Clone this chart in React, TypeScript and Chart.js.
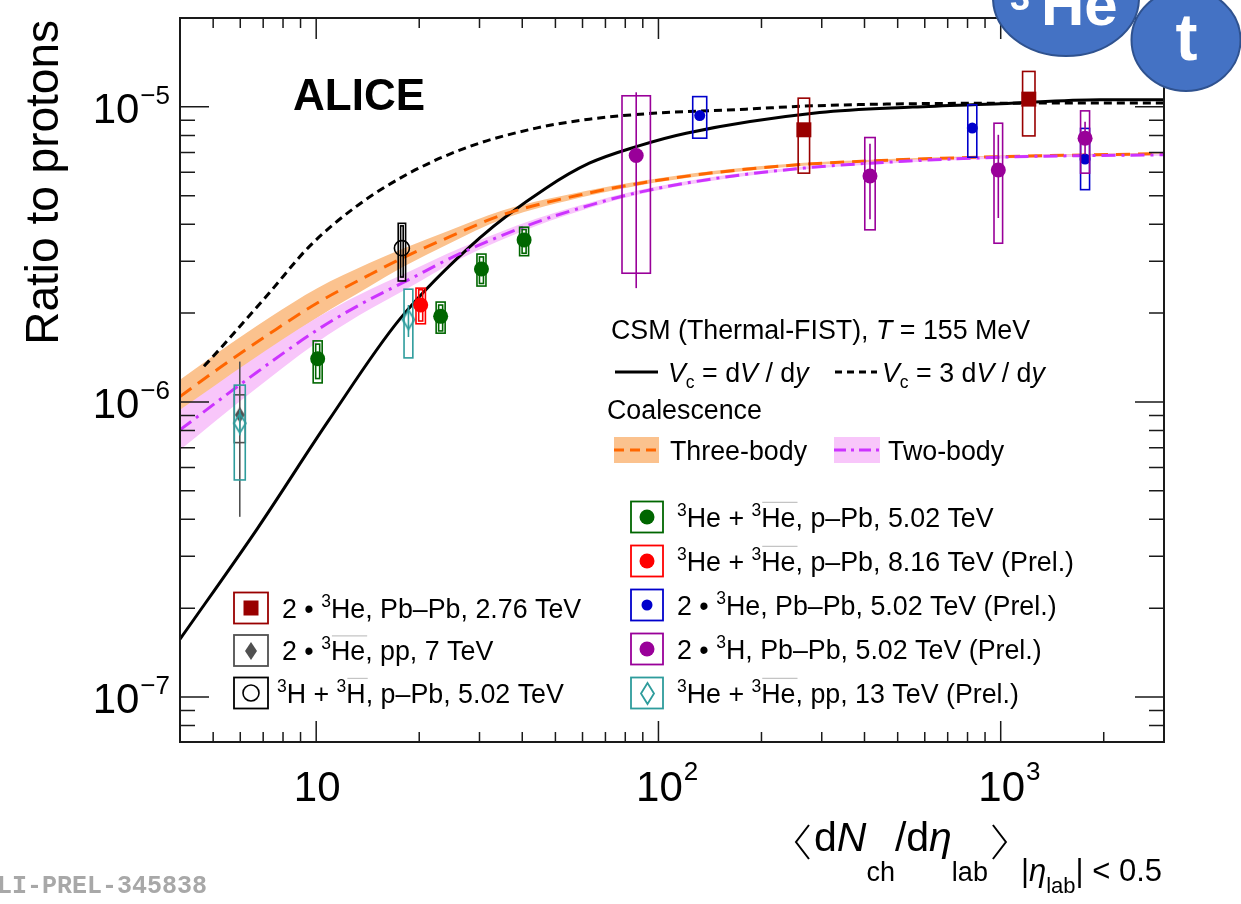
import React, { useEffect, useRef } from 'react';
import { Chart, registerables } from 'chart.js';

Chart.register(...registerables);

const SANS = '"Liberation Sans", Arimo, Helvetica, Arial, sans-serif';
const MONO = '"Liberation Mono", "DejaVu Sans Mono", monospace';

// Axis ranges
const X_MIN = 4;
const X_MAX = 3000;
const Y_MIN = 7.04e-8;
const Y_MAX = 2.0e-5;

// Major ticks and their labels (mantissa, exponent)
const xMajor = [10, 100, 1000];
const xMajorLabels = [['10', ''], ['10', '2'], ['10', '3']];
const yMajor = [1e-7, 1e-6, 1e-5];
const yMajorLabels = [['10', '\u22127'], ['10', '\u22126'], ['10', '\u22125']];

// CSM (Thermal-FIST), T = 155 MeV, Vc = dV/dy
const csm1X = [4, 6.74, 10.9, 17.5, 30.0, 46.9, 62.8, 86.1, 120.5, 295.8, 553, 1000, 1948, 3000];
const csm1Y = [1.57e-7, 3.73e-7, 8.69e-7, 1.9e-6, 3.59e-6, 5.3e-6, 6.44e-6, 7.33e-6, 8.14e-6, 9.56e-6, 9.98e-6, 1.024e-5, 1.057e-5, 1.057e-5];

// CSM (Thermal-FIST), Vc = 3 dV/dy
const csm3X = [4.7, 5.2, 7.29, 9.54, 13.07, 18.7, 28.0, 43.9, 62.8, 92, 180, 282, 1000, 3000];
const csm3Y = [1.32e-6, 1.5e-6, 2.34e-6, 3.36e-6, 4.59e-6, 5.96e-6, 7.33e-6, 8.47e-6, 9.08e-6, 9.47e-6, 9.82e-6, 1.008e-5, 1.029e-5, 1.03e-5];

// Coalescence, three-body: central value and band
const coal3X = [4, 5.2, 7.29, 10.07, 14.3, 17.9, 24.5, 35, 62.8, 86.1, 144, 266, 415, 1000, 3000];
const coal3Y = [1.043e-6, 1.3e-6, 1.7e-6, 2.165e-6, 2.695e-6, 3.077e-6, 3.624e-6, 4.304e-6, 5.11e-6, 5.48e-6, 5.975e-6, 6.385e-6, 6.56e-6, 6.78e-6, 6.94e-6];
const coal3Hi = [1.189e-6, 1.479e-6, 1.93e-6, 2.429e-6, 2.954e-6, 3.305e-6, 3.812e-6, 4.455e-6, 5.217e-6, 5.568e-6, 6.059e-6, 6.459e-6, 6.621e-6, 6.843e-6, 6.989e-6];
const coal3Lo = [0.915e-6, 1.142e-6, 1.498e-6, 1.93e-6, 2.459e-6, 2.865e-6, 3.445e-6, 4.158e-6, 5.005e-6, 5.394e-6, 5.893e-6, 6.312e-6, 6.5e-6, 6.718e-6, 6.892e-6];

// Coalescence, two-body: central value and band
const coal2X = [4, 6.37, 10.07, 13.36, 18.58, 26.2, 43.9, 62.8, 86.1, 144, 266, 415, 1000, 3000];
const coal2Y = [8.04e-7, 1.206e-6, 1.754e-6, 2.13e-6, 2.59e-6, 3.175e-6, 4.06e-6, 4.636e-6, 5.11e-6, 5.7e-6, 6.2e-6, 6.44e-6, 6.75e-6, 6.88e-6];
const coal2Hi = [9.4e-7, 1.369e-6, 1.932e-6, 2.309e-6, 2.756e-6, 3.308e-6, 4.174e-6, 4.733e-6, 5.192e-6, 5.78e-6, 6.272e-6, 6.5e-6, 6.813e-6, 6.928e-6];
const coal2Lo = [6.87e-7, 1.063e-6, 1.592e-6, 1.965e-6, 2.434e-6, 3.047e-6, 3.949e-6, 4.541e-6, 5.03e-6, 5.621e-6, 6.129e-6, 6.381e-6, 6.688e-6, 6.832e-6];

// Measurements: [dNch/deta, ratio, statLo, statHi, sysLo, sysHi]
const hePPb502 = [
  [10.1, 1.40e-6, 1.20e-6, 1.57e-6, 1.16e-6, 1.61e-6],
  [23.1, 1.95e-6, 1.74e-6, 2.13e-6, 1.71e-6, 2.18e-6],
  [30.4, 2.82e-6, 2.52e-6, 3.10e-6, 2.47e-6, 3.17e-6],
  [40.5, 3.54e-6, 3.19e-6, 3.84e-6, 3.13e-6, 3.91e-6],
];
const hePPb816 = [[20.2, 2.13e-6, 1.88e-6, 2.40e-6, 1.84e-6, 2.43e-6]];
const hePbPb502 = [
  [132, 9.34e-6, 9.0e-6, 9.7e-6, 7.83e-6, 1.083e-5],
  [826, 8.47e-6, 8.1e-6, 8.8e-6, 6.75e-6, 1.016e-5],
  [1764, 6.65e-6, 6.4e-6, 6.9e-6, 5.24e-6, 8.45e-6],
];
const tPbPb502 = [
  [86.1, 6.84e-6, 2.43e-6, 1.12e-5, 2.73e-6, 1.09e-5],
  [415, 5.83e-6, 4.16e-6, 7.5e-6, 3.83e-6, 7.87e-6],
  [984, 6.11e-6, 4.2e-6, 8.04e-6, 3.45e-6, 8.8e-6],
  [1764, 7.83e-6, 6.9e-6, 8.9e-6, 5.96e-6, 9.69e-6],
];
const hePP13 = [
  [5.98, 8.47e-7, 7.7e-7, 9.4e-7, 5.44e-7, 1.14e-6],
  [18.6, 1.90e-6, 1.66e-6, 2.13e-6, 1.41e-6, 2.41e-6],
];
const hePbPb276 = [
  [266, 8.36e-6, 8.0e-6, 8.7e-6, 5.96e-6, 1.07e-5],
  [1208, 1.062e-5, 1.02e-5, 1.10e-5, 7.97e-6, 1.318e-5],
];
const heBarPP7 = [[5.98, 9.04e-7, 4.08e-7, 1.37e-6, 7.28e-7, 1.057e-6]];
const tPPb502 = [[17.8, 3.32e-6, 2.65e-6, 3.95e-6, 2.57e-6, 4.03e-6]];

// Colours
const GREEN = '#006600';
const RED = '#ff0000';
const BLUE = '#0000cc';
const PURPLE = '#990099';
const DARKRED = '#990000';
const TEAL = '#2e9c9c';
const GRAY = '#505050';
const ORANGE = '#ff6600';
const ORANGE_BAND = '#fbc28e';
const VIOLET = '#cc33ff';
const PINK_BAND = '#f8c6fa';
const AXIS = '#1a1a1a';

const LEG = 26.8;
const SUP = 17.5;

function fnt(size: number, it = false, b = false, fam = SANS) {
  return `${it ? 'italic ' : ''}${b ? 'bold ' : ''}${size}px ${fam}`;
}

function makeDiamond(w: number, h: number, fill: string | null, stroke: string | null, lw: number) {
  const pad = Math.ceil(lw) + 1;
  const c = document.createElement('canvas');
  c.width = w + 2 * pad;
  c.height = h + 2 * pad;
  const g = c.getContext('2d')!;
  g.beginPath();
  g.moveTo(c.width / 2, pad);
  g.lineTo(c.width - pad, c.height / 2);
  g.lineTo(c.width / 2, c.height - pad);
  g.lineTo(pad, c.height / 2);
  g.closePath();
  if (fill) { g.fillStyle = fill; g.fill(); }
  if (stroke) { g.strokeStyle = stroke; g.lineWidth = lw; g.stroke(); }
  return c;
}

type Seg = { t?: string; size?: number; it?: boolean; b?: boolean; dy?: number; over?: boolean; br?: 'l' | 'r'; w?: number };

function segWidth(ctx: CanvasRenderingContext2D, s: Seg) {
  if (s.br) return s.w || 0;
  ctx.font = fnt(s.size || LEG, s.it, s.b);
  return ctx.measureText(s.t || '').width;
}

function segsWidth(ctx: CanvasRenderingContext2D, segs: Seg[]) {
  return segs.reduce((a, s) => a + segWidth(ctx, s), 0);
}

function drawSegs(ctx: CanvasRenderingContext2D, x: number, base: number, segs: Seg[], color = '#000') {
  let cx = x;
  ctx.fillStyle = color;
  ctx.textBaseline = 'alphabetic';
  ctx.textAlign = 'left';
  for (const s of segs) {
    const w = segWidth(ctx, s);
    if (s.br) {
      ctx.save();
      ctx.strokeStyle = color;
      ctx.lineWidth = 2;
      ctx.beginPath();
      if (s.br === 'l') {
        ctx.moveTo(cx + 14, base - 26);
        ctx.lineTo(cx + 1, base - 9);
        ctx.lineTo(cx + 14, base + 8);
      } else {
        ctx.moveTo(cx + 5, base - 26);
        ctx.lineTo(cx + 18, base - 9);
        ctx.lineTo(cx + 5, base + 8);
      }
      ctx.stroke();
      ctx.restore();
    } else {
      const size = s.size || LEG;
      ctx.font = fnt(size, s.it, s.b);
      ctx.fillText(s.t || '', cx, base + (s.dy || 0));
      if (s.over) {
        ctx.save();
        ctx.strokeStyle = '#c4c4c4';
        ctx.lineWidth = 1.2;
        const oy = base + (s.dy || 0) - 0.716 * size - 5;
        ctx.beginPath();
        ctx.moveTo(cx + 1, oy);
        ctx.lineTo(cx + w + 2, oy);
        ctx.stroke();
        ctx.restore();
      }
    }
    cx += w;
  }
  return cx;
}

const sup3: Seg = { t: '3', size: SUP, dy: -11 };

function pointsDataset(rows: number[][], style: any, order: number, marker: any) {
  return {
    type: 'line',
    showLine: false,
    data: rows.map((r) => ({ x: r[0], y: r[1] })),
    errs: rows,
    errStyle: style,
    order,
    fill: false,
    ...marker,
  };
}

function curveDataset(xs: number[], ys: number[], color: string, dash: number[], order: number) {
  return {
    type: 'line',
    data: xs.map((x, i) => ({ x, y: ys[i] })),
    borderColor: color,
    borderWidth: 3,
    borderDash: dash,
    pointRadius: 0,
    fill: false,
    cubicInterpolationMode: 'monotone',
    order,
  };
}

function bandDataset(xs: number[], ys: number[], color: string, fill: any, order: number) {
  return {
    type: 'line',
    data: xs.map((x, i) => ({ x, y: ys[i] })),
    borderColor: 'rgba(0,0,0,0)',
    borderWidth: 0,
    backgroundColor: color,
    pointRadius: 0,
    fill,
    cubicInterpolationMode: 'monotone',
    order,
  };
}

export default function App() {
  const ref = useRef<HTMLCanvasElement>(null);

  useEffect(() => {
    const canvas = ref.current;
    if (!canvas) return;

    const tealDiamond = makeDiamond(12, 19, null, TEAL, 1.8);
    const grayDiamond = makeDiamond(10, 16, GRAY, null, 0);
    const tealDiamondLeg = makeDiamond(13, 21, null, TEAL, 1.8);
    const grayDiamondLeg = makeDiamond(12, 18, GRAY, null, 0);

    const errorBoxes = {
      id: 'errorBoxes',
      beforeDatasetDraw(chart: any, args: any) {
        const ds = chart.data.datasets[args.index];
        if (!ds.errs) return;
        const { ctx, chartArea: a } = chart;
        const xs = chart.scales.x;
        const ys = chart.scales.y;
        const st = ds.errStyle;
        ctx.save();
        ctx.beginPath();
        ctx.rect(a.left, a.top, a.right - a.left, a.bottom - a.top);
        ctx.clip();
        ctx.strokeStyle = st.color;
        ctx.lineWidth = 1.6;
        ds.errs.forEach((r: number[], i: number) => {
          const px = xs.getPixelForValue(r[0]);
          const sTop = ys.getPixelForValue(r[3]);
          const sBot = ys.getPixelForValue(r[2]);
          const bTop = ys.getPixelForValue(r[5]);
          const bBot = ys.getPixelForValue(r[4]);
          if (st.stat === 'line') {
            ctx.beginPath();
            ctx.moveTo(px, sTop);
            ctx.lineTo(px, sBot);
            ctx.stroke();
          } else if (st.stat === 'box') {
            ctx.strokeRect(px - st.statHalf, sTop, 2 * st.statHalf, sBot - sTop);
          }
          const hw = st.boxHalf[i];
          ctx.strokeRect(px - hw, bTop, 2 * hw, bBot - bTop);
        });
        ctx.restore();
      },
    };

    const decorations = {
      id: 'decorations',
      afterDraw(chart: any) {
        const { ctx, chartArea: a } = chart;
        const xs = chart.scales.x;
        const ys = chart.scales.y;
        ctx.save();

        // frame
        ctx.strokeStyle = AXIS;
        ctx.lineWidth = 2;
        ctx.strokeRect(a.left, a.top, a.right - a.left, a.bottom - a.top);

        // ticks
        ctx.lineWidth = 1.5;
        const xMinor: number[] = [];
        const yMinor: number[] = [];
        for (let e = 0; e <= 3; e++) for (let m = 2; m <= 9; m++) {
          const v = m * Math.pow(10, e);
          if (v > X_MIN * 1.001 && v < X_MAX * 0.999) xMinor.push(v);
        }
        for (let e = -8; e <= -5; e++) for (let m = 2; m <= 9; m++) {
          const v = m * Math.pow(10, e);
          if (v > Y_MIN * 1.001 && v < Y_MAX * 0.999) yMinor.push(v);
        }
        const xTick = (v: number, len: number) => {
          const p = xs.getPixelForValue(v);
          ctx.beginPath();
          ctx.moveTo(p, a.bottom); ctx.lineTo(p, a.bottom - len);
          ctx.moveTo(p, a.top); ctx.lineTo(p, a.top + len);
          ctx.stroke();
        };
        const yTick = (v: number, len: number) => {
          const p = ys.getPixelForValue(v);
          ctx.beginPath();
          ctx.moveTo(a.left, p); ctx.lineTo(a.left + len, p);
          ctx.moveTo(a.right, p); ctx.lineTo(a.right - len, p);
          ctx.stroke();
        };
        xMinor.forEach((v) => xTick(v, 10));
        xMajor.forEach((v) => xTick(v, 21));
        yMinor.forEach((v) => yTick(v, 15));
        yMajor.forEach((v) => yTick(v, 29));

        // tick labels
        ctx.fillStyle = '#000';
        ctx.textBaseline = 'alphabetic';
        xMajor.forEach((v, i) => {
          const p = xs.getPixelForValue(v);
          const [m, e] = xMajorLabels[i];
          ctx.font = fnt(42);
          const w = ctx.measureText(m).width;
          const x0 = p - w / 2 + 1;
          ctx.fillText(m, x0, 801);
          if (e) {
            ctx.font = fnt(26);
            ctx.fillText(e, x0 + w + 1, 780);
          }
        });
        yMajor.forEach((v, i) => {
          const p = ys.getPixelForValue(v);
          const [m, e] = yMajorLabels[i];
          ctx.font = fnt(26);
          const we = ctx.measureText(e).width;
          ctx.font = fnt(42);
          const wm = ctx.measureText(m).width;
          const x0 = 170 - we - wm - 1;
          ctx.fillText(m, x0, p + 16);
          ctx.font = fnt(26);
          ctx.fillText(e, x0 + wm + 1, p - 3);
        });

        // y title
        ctx.save();
        ctx.translate(58, 0);
        ctx.rotate(-Math.PI / 2);
        ctx.font = fnt(46);
        ctx.textAlign = 'right';
        ctx.fillText('Ratio to protons', -20, 0);
        ctx.restore();

        // x title
        const M = 41, S1 = 27, S2 = 31, SS = 22;
        const xt: Seg[] = [
          { br: 'l', w: 19 },
          { t: 'd', size: M }, { t: 'N', size: M, it: true },
          { t: 'ch', size: S1, dy: 30 },
          { t: '/d', size: M }, { t: '\u03b7', size: M, it: true },
          { t: 'lab', size: S1, dy: 30 },
          { br: 'r', w: 33 },
          { t: '|', size: S2, dy: 30 }, { t: '\u03b7', size: S2, it: true, dy: 30 },
          { t: 'lab', size: SS, dy: 42 },
          { t: '| < 0.5', size: S2, dy: 30 },
        ];
        const xtw = segsWidth(ctx, xt);
        drawSegs(ctx, 1162 - xtw, 851, xt);

        // ALICE label
        ctx.font = fnt(44, false, true);
        ctx.fillStyle = '#000';
        ctx.fillText('ALICE', 293, 110);

        // model legend
        drawSegs(ctx, 611, 339, [
          { t: 'CSM (Thermal-FIST), ' }, { t: 'T', it: true }, { t: ' = 155 MeV' },
        ]);
        ctx.strokeStyle = '#000';
        ctx.lineWidth = 3;
        ctx.beginPath(); ctx.moveTo(615, 372); ctx.lineTo(658, 372); ctx.stroke();
        drawSegs(ctx, 668, 382, [
          { t: 'V', it: true }, { t: 'c', size: SUP, dy: 6 }, { t: ' = d' }, { t: 'V', it: true }, { t: ' / d' }, { t: 'y', it: true },
        ]);
        ctx.setLineDash([7, 5]);
        ctx.beginPath(); ctx.moveTo(835, 372); ctx.lineTo(877, 372); ctx.stroke();
        ctx.setLineDash([]);
        drawSegs(ctx, 882, 382, [
          { t: 'V', it: true }, { t: 'c', size: SUP, dy: 6 }, { t: ' = 3 d' }, { t: 'V', it: true }, { t: ' / d' }, { t: 'y', it: true },
        ]);
        drawSegs(ctx, 607, 419, [{ t: 'Coalescence' }]);
        ctx.fillStyle = ORANGE_BAND;
        ctx.fillRect(614, 437, 45, 26);
        ctx.strokeStyle = ORANGE;
        ctx.setLineDash([10, 6]);
        ctx.beginPath(); ctx.moveTo(614, 450); ctx.lineTo(659, 450); ctx.stroke();
        ctx.fillStyle = PINK_BAND;
        ctx.fillRect(834, 437, 46, 26);
        ctx.strokeStyle = VIOLET;
        ctx.setLineDash([12, 5, 3, 5]);
        ctx.beginPath(); ctx.moveTo(834, 450); ctx.lineTo(880, 450); ctx.stroke();
        ctx.setLineDash([]);
        drawSegs(ctx, 670, 459.6, [{ t: 'Three-body' }]);
        drawSegs(ctx, 888, 459.6, [{ t: 'Two-body' }]);

        // data legends
        const marker = (kind: string, color: string, cx: number, cy: number) => {
          ctx.save();
          if (kind === 'circle' || kind === 'small') {
            ctx.fillStyle = color;
            ctx.beginPath();
            ctx.arc(cx, cy, kind === 'small' ? 5.5 : 7.5, 0, Math.PI * 2);
            ctx.fill();
          } else if (kind === 'square') {
            ctx.fillStyle = color;
            ctx.fillRect(cx - 7.5, cy - 7.5, 15, 15);
          } else if (kind === 'open') {
            ctx.strokeStyle = color;
            ctx.lineWidth = 1.6;
            ctx.beginPath();
            ctx.arc(cx, cy, 8, 0, Math.PI * 2);
            ctx.stroke();
          } else if (kind === 'tealDiamond') {
            ctx.drawImage(tealDiamondLeg, Math.round(cx - tealDiamondLeg.width / 2), Math.round(cy - tealDiamondLeg.height / 2));
          } else if (kind === 'grayDiamond') {
            ctx.drawImage(grayDiamondLeg, Math.round(cx - grayDiamondLeg.width / 2), Math.round(cy - grayDiamondLeg.height / 2));
          }
          ctx.restore();
        };
        const entry = (bx: number, bw: number, cy: number, color: string, kind: string, tx: number, segs: Seg[]) => {
          ctx.strokeStyle = color;
          ctx.lineWidth = 1.8;
          ctx.strokeRect(bx, cy - 15.5, bw, 31);
          marker(kind, kind === 'grayDiamond' ? GRAY : color, bx + bw / 2, cy);
          drawSegs(ctx, tx, cy + 9.6, segs);
        };
        const overHe: Seg = { t: 'He', over: true };
        entry(631, 32, 517, GREEN, 'circle', 677, [sup3, { t: 'He + ' }, sup3, overHe, { t: ', p\u2013Pb, 5.02 TeV' }]);
        entry(631, 32, 561, RED, 'circle', 677, [sup3, { t: 'He + ' }, sup3, overHe, { t: ', p\u2013Pb, 8.16 TeV (Prel.)' }]);
        entry(631, 32, 605, BLUE, 'small', 677, [{ t: '2 \u2022 ' }, sup3, { t: 'He, Pb\u2013Pb, 5.02 TeV (Prel.)' }]);
        entry(631, 32, 649, PURPLE, 'circle', 677, [{ t: '2 \u2022 ' }, sup3, { t: 'H, Pb\u2013Pb, 5.02 TeV (Prel.)' }]);
        entry(631, 32, 693, TEAL, 'tealDiamond', 677, [sup3, { t: 'He + ' }, sup3, overHe, { t: ', pp, 13 TeV (Prel.)' }]);
        entry(234, 34, 608, DARKRED, 'square', 282, [{ t: '2 \u2022 ' }, sup3, { t: 'He, Pb\u2013Pb, 2.76 TeV' }]);
        entry(234, 34, 650.5, GRAY, 'grayDiamond', 282, [{ t: '2 \u2022 ' }, sup3, overHe, { t: ', pp, 7 TeV' }]);
        entry(234, 34, 693, '#000', 'open', 277, [sup3, { t: 'H + ' }, sup3, { t: 'H', over: true }, { t: ', p\u2013Pb, 5.02 TeV' }]);

        // preliminary figure id
        ctx.font = fnt(25, false, true, MONO);
        ctx.fillStyle = '#a8a8a8';
        ctx.fillText('ALI-PREL-345838', -18, 893);

        // nucleus badges
        ctx.lineWidth = 2;
        ctx.fillStyle = '#4472c4';
        ctx.strokeStyle = '#2f528f';
        ctx.beginPath();
        ctx.ellipse(1066, -2, 73, 58, 0, 0, Math.PI * 2);
        ctx.fill();
        ctx.stroke();
        ctx.fillStyle = '#ffffff';
        ctx.font = fnt(36, false, true);
        ctx.fillText('3', 1010, 10);
        ctx.font = fnt(60, false, true);
        ctx.fillText('He', 1041, 25);
        ctx.fillStyle = '#4472c4';
        ctx.beginPath();
        ctx.ellipse(1186, 40, 54.5, 51, 0, 0, Math.PI * 2);
        ctx.fill();
        ctx.stroke();
        ctx.fillStyle = '#ffffff';
        ctx.font = fnt(66, false, true);
        ctx.textAlign = 'center';
        ctx.fillText('t', 1186.5, 60);

        ctx.restore();
      },
    };

    const datasets: any[] = [
      bandDataset(coal3X, coal3Hi, ORANGE_BAND, '+1', 100),
      bandDataset(coal3X, coal3Lo, ORANGE_BAND, false, 99),
      bandDataset(coal2X, coal2Hi, PINK_BAND, '+1', 98),
      bandDataset(coal2X, coal2Lo, PINK_BAND, false, 97),
      curveDataset(csm3X, csm3Y, '#000', [8, 5], 90),
      curveDataset(csm1X, csm1Y, '#000', [], 89),
      curveDataset(coal3X, coal3Y, ORANGE, [14, 8], 88),
      curveDataset(coal2X, coal2Y, VIOLET, [14, 6, 3, 6], 87),
      pointsDataset(heBarPP7, { color: GRAY, stat: 'line', boxHalf: [5.5] }, 20,
        { pointStyle: grayDiamond, pointRadius: 8 }),
      pointsDataset(hePP13, { color: TEAL, stat: 'line', boxHalf: [5.5, 4.4] }, 19,
        { pointStyle: tealDiamond, pointRadius: 9 }),
      pointsDataset(tPPb502, { color: '#000', stat: 'box', statHalf: 1.3, boxHalf: [3.7] }, 18,
        { pointStyle: 'circle', pointRadius: 7.5, pointBackgroundColor: 'rgba(0,0,0,0)', pointBorderColor: '#000', pointBorderWidth: 1.6 }),
      pointsDataset(hePPb502, { color: GREEN, stat: 'box', statHalf: 2, boxHalf: [4.5, 4.5, 4.5, 4.5] }, 17,
        { pointStyle: 'circle', pointRadius: 7.5, pointBackgroundColor: GREEN, pointBorderColor: GREEN, pointBorderWidth: 0 }),
      pointsDataset(hePPb816, { color: RED, stat: 'box', statHalf: 2, boxHalf: [4.7] }, 16,
        { pointStyle: 'circle', pointRadius: 7.5, pointBackgroundColor: RED, pointBorderColor: RED, pointBorderWidth: 0 }),
      pointsDataset(hePbPb502, { color: BLUE, stat: 'none', boxHalf: [7, 4.5, 4.5] }, 15,
        { pointStyle: 'circle', pointRadius: 5.5, pointBackgroundColor: BLUE, pointBorderColor: BLUE, pointBorderWidth: 0 }),
      pointsDataset(hePbPb276, { color: DARKRED, stat: 'none', boxHalf: [5.7, 6.2] }, 14,
        { pointStyle: 'rect', pointRadius: 10.6, pointBackgroundColor: DARKRED, pointBorderColor: DARKRED, pointBorderWidth: 0 }),
      pointsDataset(tPbPb502, { color: PURPLE, stat: 'line', boxHalf: [14.2, 5.2, 4.3, 4.5] }, 13,
        { pointStyle: 'circle', pointRadius: 7.5, pointBackgroundColor: PURPLE, pointBorderColor: PURPLE, pointBorderWidth: 0 }),
    ];

    const chart = new Chart(canvas, {
      type: 'line',
      data: { datasets },
      options: {
        responsive: false,
        maintainAspectRatio: false,
        animation: false,
        events: [],
        layout: { padding: { left: 180, top: 18, right: 77, bottom: 162 } },
        scales: {
          x: { type: 'logarithmic', min: X_MIN, max: X_MAX, bounds: 'data', display: false },
          y: { type: 'logarithmic', min: Y_MIN, max: Y_MAX, bounds: 'data', display: false },
        },
        plugins: {
          legend: { display: false },
          tooltip: { enabled: false },
        },
      },
      plugins: [errorBoxes, decorations],
    } as any);

    return () => chart.destroy();
  }, []);

  return (
    <div style={{ position: 'absolute', left: 0, top: 0, width: 1241, height: 904, background: '#fff' }}>
      <canvas ref={ref} width={1241} height={904} style={{ display: 'block' }} />
    </div>
  );
}
